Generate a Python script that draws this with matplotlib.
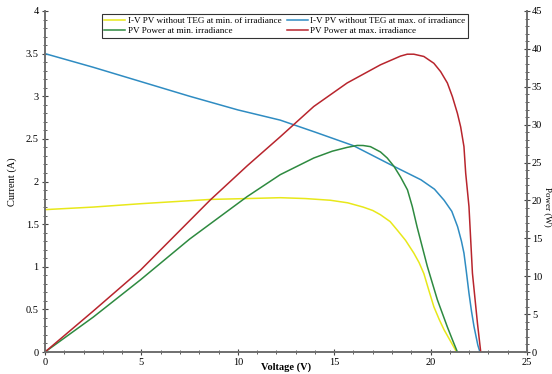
import numpy as np
import matplotlib.pyplot as plt
from matplotlib.ticker import MultipleLocator, FormatStrFormatter

# Datos
v_iv_min = [0, 2.5, 5, 8.6, 10.5, 12.2, 13.5, 14.8, 15.7, 16.5, 17.0, 17.4, 17.9, 18.27, 18.7, 19.13, 19.4, 19.65, 19.9, 20.17, 20.45, 20.7, 21.05, 21.35]
i_iv_min = [1.67, 1.70, 1.74, 1.79, 1.80, 1.81, 1.80, 1.78, 1.75, 1.70, 1.66, 1.61, 1.53, 1.43, 1.31, 1.16, 1.05, 0.92, 0.73, 0.53, 0.38, 0.26, 0.12, 0.0]

v_iv_max = [0, 2.5, 5, 7.5, 10, 12.2, 14.0, 16.0, 17.9, 19.5, 20.2, 20.7, 21.1, 21.4, 21.6, 21.73, 21.85, 21.99, 22.12, 22.25, 22.45, 22.56]
i_iv_max = [3.50, 3.34, 3.17, 3.00, 2.84, 2.72, 2.58, 2.42, 2.20, 2.02, 1.91, 1.78, 1.65, 1.47, 1.30, 1.16, 0.95, 0.69, 0.48, 0.30, 0.08, 0.0]

v_p_min = [0, 2.5, 4.94, 7.5, 10.48, 12.2, 13.94, 14.9, 15.67, 16.19, 16.5, 16.88, 17.4, 17.75, 18.1, 18.44, 18.8, 19.05, 19.3, 19.83, 20.35, 20.87, 21.15, 21.39]
p_min = [0, 4.6, 9.5, 14.9, 20.5, 23.4, 25.6, 26.5, 27.0, 27.26, 27.25, 27.1, 26.4, 25.6, 24.5, 23.1, 21.4, 19.2, 16.5, 11.3, 6.9, 3.3, 1.5, 0]

v_p_max = [0, 2.5, 4.95, 8.57, 10.5, 12.2, 13.94, 15.67, 17.4, 18.44, 18.79, 19.13, 19.65, 20.17, 20.52, 20.87, 21.13, 21.39, 21.56, 21.73, 21.82, 21.99, 22.17, 22.43, 22.6]
p_max = [0, 5.4, 10.8, 20.06, 24.6, 28.4, 32.4, 35.5, 37.9, 39.05, 39.3, 39.3, 39.0, 38.1, 37.0, 35.5, 33.7, 31.5, 29.7, 27.1, 23.6, 19.2, 10.4, 3.8, 0]

plt.rcParams['font.family'] = ['Liberation Serif', 'DejaVu Serif']

fig = plt.figure(figsize=(5.52, 3.74), dpi=100)
ax = fig.add_axes([45 / 552, 1 - 352 / 374, 482 / 552, 341 / 374])
ax2 = ax.twinx()

c_yel = '#e8e81a'
c_blu = '#2f8cc2'
c_grn = '#2e8a40'
c_red = '#b8252d'

l1, = ax.plot(v_iv_min, i_iv_min, color=c_yel, lw=1.1, label='I-V PV without TEG at min. of irradiance')
l2, = ax.plot(v_iv_max, i_iv_max, color=c_blu, lw=1.1, label='I-V PV without TEG at max. of irradiance')
l3, = ax2.plot(v_p_min, p_min, color=c_grn, lw=1.1, label='PV Power at min. irradiance')
l4, = ax2.plot(v_p_max, p_max, color=c_red, lw=1.1, label='PV Power at max. irradiance')

ax.set_xlim(0, 25)
ax.set_ylim(0, 4)
ax2.set_ylim(0, 45)

ax.xaxis.set_major_locator(MultipleLocator(5))
ax.xaxis.set_minor_locator(MultipleLocator(1))
ax.yaxis.set_major_locator(MultipleLocator(0.5))
ax.yaxis.set_minor_locator(MultipleLocator(0.1))
ax.yaxis.set_major_formatter(FormatStrFormatter('%g'))
ax2.yaxis.set_major_locator(MultipleLocator(5))
ax2.yaxis.set_minor_locator(MultipleLocator(1))

for a in (ax, ax2):
    a.spines['top'].set_visible(False)
    for s in ('left', 'right', 'bottom'):
        a.spines[s].set_color('#6e6e6e')
        a.spines[s].set_linewidth(1.2)
    a.tick_params(which='major', direction='inout', length=5, width=0.8, labelsize=7.5, color='#444444', pad=2)
    a.tick_params(which='minor', direction='inout', length=3, width=0.6, color='#444444')
ax2.tick_params(which='major', pad=1)

# Etiquetas
fig.text(286 / 552, 1 - 367 / 374, 'Voltage (V)', fontsize=7.5, fontweight='bold', ha='center', va='center')
ax.set_ylabel('Current (A)', fontsize=7.5, labelpad=6)
fig.text(544 / 552, 1 - 207 / 374, 'Power (W)', rotation=270, fontsize=6.5, ha='left', va='center')

# Leyenda
leg = fig.legend([l1, l3, l2, l4], [l.get_label() for l in (l1, l3, l2, l4)],
                 ncol=2, loc='upper left', bbox_to_anchor=(97 / 552, 1 - 9 / 374),
                 fontsize=6.6, frameon=True, fancybox=False, edgecolor='black',
                 handlelength=2.3, handletextpad=0.25, columnspacing=0.6,
                 borderpad=0.3, labelspacing=0.25)
leg.get_frame().set_linewidth(0.8)

plt.savefig('out.png', dpi=100)
